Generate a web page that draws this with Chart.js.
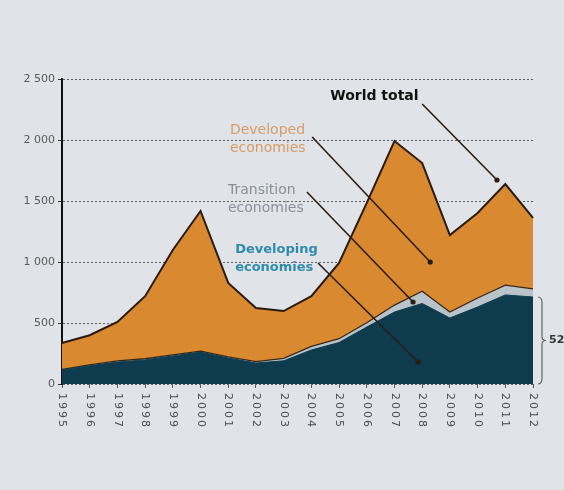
<!DOCTYPE html>
<html>
<head>
<meta charset="utf-8">
<script src="https://cdn.jsdelivr.net/npm/chart.js@4/dist/chart.umd.min.js"></script>
<style>
  html, body { margin: 0; padding: 0; background: #e0e3e8; }
  #wrap { width: 564px; height: 490px; position: relative; }
</style>
</head>
<body>
<div id="wrap"><canvas id="c" width="564" height="490"></canvas></div>
<script>
// FDI inflows by group of economies, 1995-2012 (billions of dollars)
const years = ['1995','1996','1997','1998','1999','2000','2001','2002','2003','2004','2005','2006','2007','2008','2009','2010','2011','2012'];
const developing = [115,150,180,197,230,262,213,172,190,279,340,467,590,660,541,631,730,713];
const transition = [5,6,10,10,8,7,10,12,20,30,31,35,57,100,49,74,81,66];
const developed  = [216,244,318,513,860,1149,605,439,388,411,621,982,1345,1051,631,697,828,582];
const yTicks = [0, 500, 1000, 1500, 2000, 2500];
const developingShare = '52';

// Callouts placed in data space: [category index, value]; text is left-aligned at `at`
const callouts = [
  { lines: ['World total'], color: '#111', weight: 'bold', size: 14, at: [9.68, 2361], from: [13.0, 2295], to: [15.7, 1672] },
  { lines: ['Developed', 'economies'], color: '#d99c66', weight: 'normal', size: 14, at: [6.06, 2082], from: [9.03, 2025], to: [13.29, 1000] },
  { lines: ['Transition', 'economies'], color: '#8a9099', weight: 'normal', size: 14, at: [5.99, 1590], from: [8.84, 1574], to: [12.67, 672] },
  { lines: ['Developing', 'economies'], color: '#2f8bad', weight: 'bold', size: 13, at: [6.25, 1098], from: [9.24, 992], to: [12.85, 180] }
];

const FONT = '"DejaVu Sans", "Liberation Sans", Arial, sans-serif';

function px(chart, idx, val) {
  const xs = chart.scales.x, ys = chart.scales.y;
  const x0 = xs.getPixelForValue(0), x1 = xs.getPixelForValue(1);
  return [x0 + (x1 - x0) * idx, ys.getPixelForValue(val)];
}

const decor = {
  id: 'decor',
  afterDatasetsDraw(chart) {
    const ctx = chart.ctx;
    const xs = chart.scales.x, ys = chart.scales.y;
    ctx.save();
    // year labels, rotated to read downward
    ctx.font = '11px ' + FONT;
    ctx.letterSpacing = '2px';
    ctx.fillStyle = '#4a4a4a';
    ctx.textAlign = 'left';
    ctx.textBaseline = 'middle';
    years.forEach((y, i) => {
      const x = xs.getPixelForValue(i);
      ctx.save();
      ctx.translate(x, ys.bottom + 9);
      ctx.rotate(Math.PI / 2);
      ctx.fillText(y, 0, 0);
      ctx.restore();
    });
    ctx.letterSpacing = '0px';
    // callouts with leader lines
    callouts.forEach(c => {
      const [tx, ty] = px(chart, c.at[0], c.at[1]);
      ctx.font = c.weight + ' ' + c.size + 'px ' + FONT;
      ctx.fillStyle = c.color;
      ctx.textAlign = 'left';
      ctx.textBaseline = 'middle';
      c.lines.forEach((l, k) => ctx.fillText(l, tx, ty + k * 18));
      const [ax, ay] = px(chart, c.from[0], c.from[1]);
      const [bx, by] = px(chart, c.to[0], c.to[1]);
      ctx.strokeStyle = '#2a1d14';
      ctx.lineWidth = 1.6;
      ctx.beginPath();
      ctx.moveTo(ax, ay);
      ctx.lineTo(bx, by);
      ctx.stroke();
      ctx.fillStyle = '#2a1d14';
      ctx.beginPath();
      ctx.arc(bx, by, 2.6, 0, Math.PI * 2);
      ctx.fill();
    });
    // brace for developing economies' share
    const last = years.length - 1;
    const bxp = xs.getPixelForValue(last) + 5;
    const top = ys.getPixelForValue(developing[last]);
    const bot = ys.getPixelForValue(0);
    const mid = (top + bot) / 2;
    ctx.strokeStyle = '#666';
    ctx.lineWidth = 1.2;
    ctx.beginPath();
    ctx.moveTo(bxp, top);
    ctx.quadraticCurveTo(bxp + 4, top, bxp + 4, top + 6);
    ctx.lineTo(bxp + 4, mid - 4);
    ctx.quadraticCurveTo(bxp + 4, mid, bxp + 8, mid);
    ctx.quadraticCurveTo(bxp + 4, mid, bxp + 4, mid + 4);
    ctx.lineTo(bxp + 4, bot - 6);
    ctx.quadraticCurveTo(bxp + 4, bot, bxp, bot);
    ctx.stroke();
    ctx.font = 'bold 11px ' + FONT;
    ctx.fillStyle = '#333';
    ctx.textAlign = 'left';
    ctx.textBaseline = 'middle';
    ctx.fillText(developingShare, bxp + 11, mid);
    ctx.restore();
  }
};

new Chart(document.getElementById('c'), {
  type: 'line',
  data: {
    labels: years,
    datasets: [
      { label: 'Developing economies', data: developing, fill: 'origin',
        backgroundColor: '#0e3b4e', borderColor: '#0e3b4e', borderWidth: 1 },
      { label: 'Transition economies', data: transition, fill: '-1',
        backgroundColor: '#b9c3ca', borderColor: '#3a2616', borderWidth: 1.3 },
      { label: 'Developed economies', data: developed, fill: '-1',
        backgroundColor: '#d98a30', borderColor: '#2a1a10', borderWidth: 2 }
    ]
  },
  options: {
    responsive: false,
    animation: false,
    elements: { point: { radius: 0 }, line: { tension: 0 } },
    layout: { padding: { top: 79, right: 31, left: 0, bottom: 0 } },
    plugins: { legend: { display: false }, tooltip: { enabled: false } },
    scales: {
      x: {
        stacked: true,
        offset: false,
        ticks: { display: false },
        grid: { display: true, drawOnChartArea: false, drawTicks: true, tickLength: 4, color: '#555' },
        border: { display: false },
        afterFit: s => { s.height = 106; }
      },
      y: {
        stacked: true,
        min: 0, max: 2500,
        afterBuildTicks: s => { s.ticks = yTicks.map(v => ({ value: v })); },
        ticks: {
          font: { family: FONT, size: 11 },
          color: '#5a5a5a',
          padding: 3,
          callback: v => String(v).replace(/\B(?=(\d{3})+(?!\d))/g, ' ')
        },
        grid: { color: '#5e5e5e', lineWidth: 1, tickLength: 4, tickColor: '#333', drawTicks: true },
        border: { color: '#111', width: 2, dash: [2, 2] },
        afterFit: s => { s.width = 62; }
      }
    }
  },
  plugins: [decor]
});
</script>
</body>
</html>
